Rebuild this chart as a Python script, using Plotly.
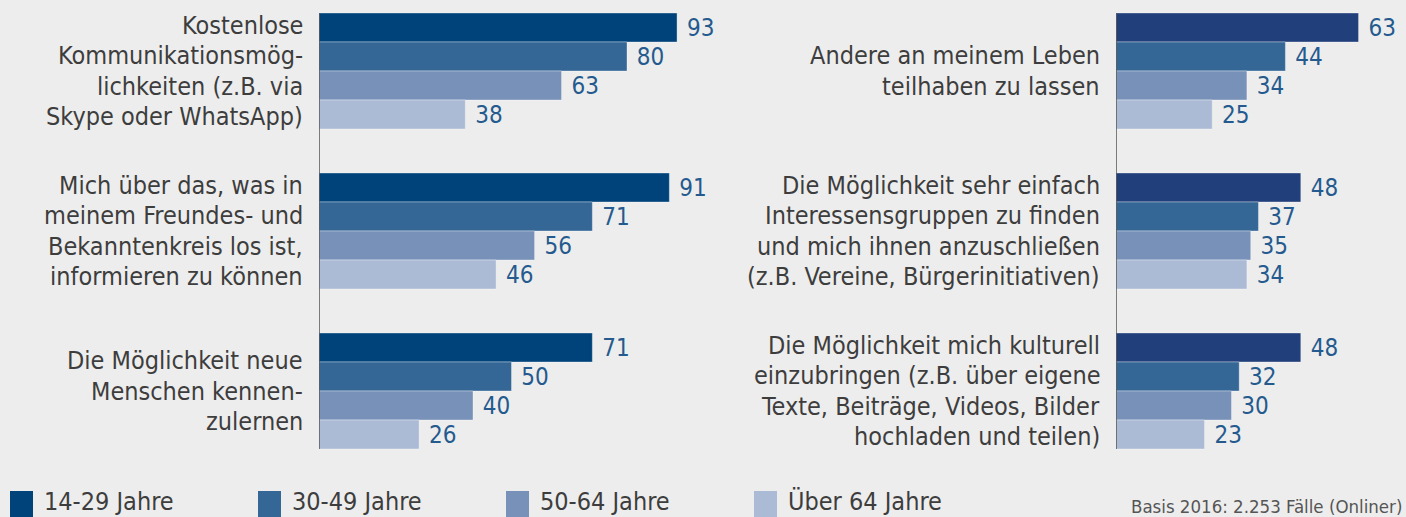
import plotly.graph_objects as go

W, H = 1406, 517

series_names = ["14-29 Jahre", "30-49 Jahre", "50-64 Jahre", "Über 64 Jahre"]

left_categories = [
    "Kostenlose<br>Kommunikationsmög-<br>lichkeiten (z.B. via<br>Skype oder WhatsApp)",
    "Mich über das, was in<br>meinem Freundes- und<br>Bekanntenkreis los ist,<br>informieren zu können",
    "Die Möglichkeit neue<br>Menschen kennen-<br>zulernen",
]
right_categories = [
    "Andere an meinem Leben<br>teilhaben zu lassen",
    "Die Möglichkeit sehr einfach<br>Interessensgruppen zu finden<br>und mich ihnen anzuschließen<br>(z.B. Vereine, Bürgerinitiativen)",
    "Die Möglichkeit mich kulturell<br>einzubringen (z.B. über eigene<br>Texte, Beiträge, Videos, Bilder<br>hochladen und teilen)",
]

left_14_29 = [93, 91, 71]
left_30_49 = [80, 71, 50]
left_50_64 = [63, 56, 40]
left_over_64 = [38, 46, 26]

right_14_29 = [63, 48, 48]
right_30_49 = [44, 37, 32]
right_50_64 = [34, 35, 30]
right_over_64 = [25, 34, 23]

footnote = "Basis 2016: 2.253 Fälle (Onliner)"

left_colors = ["#00427a", "#346696", "#7891b9", "#abbad5"]
right_colors = ["#213f7a", "#346696", "#7891b9", "#abbad5"]
legend_colors = ["#00427a", "#346696", "#7891b9", "#abbad5"]

BG = "#ededed"
LABEL_COLOR = "#3d3d3d"
VALUE_COLOR = "#245a8e"
FONT = "DejaVu Sans Condensed"
FS_LABEL = 25
FS_VALUE = 24
FS_LEGEND = 25
BARGAP = 0.275

fig = go.Figure()

left_series = [left_14_29, left_30_49, left_50_64, left_over_64]
right_series = [right_14_29, right_30_49, right_50_64, right_over_64]

for name, vals, col in zip(series_names, left_series, left_colors):
    fig.add_trace(go.Bar(
        x=vals, y=left_categories, orientation="h", name=name,
        marker=dict(color=col, line=dict(color="rgba(255,255,255,0.35)", width=1)),
        text=vals, texttemplate="\u00a0%{x}", textposition="outside",
        textfont=dict(family=FONT, size=FS_VALUE, color=VALUE_COLOR),
        cliponaxis=False, xaxis="x", yaxis="y", showlegend=False,
    ))
for name, vals, col in zip(series_names, right_series, right_colors):
    fig.add_trace(go.Bar(
        x=vals, y=right_categories, orientation="h", name=name,
        marker=dict(color=col, line=dict(color="rgba(255,255,255,0.35)", width=1)),
        text=vals, texttemplate="\u00a0%{x}", textposition="outside",
        textfont=dict(family=FONT, size=FS_VALUE, color=VALUE_COLOR),
        cliponaxis=False, xaxis="x2", yaxis="y2", showlegend=False,
    ))

px_per_unit = 3.85
left_axis_px = 319
right_axis_px = 1116
left_range = 100
right_range = 75
group_pitch = 160
first_center_px = 71

yrange = [(H - first_center_px) / group_pitch, -first_center_px / group_pitch]

fig.update_layout(
    width=W, height=H,
    margin=dict(l=0, r=0, t=0, b=0),
    paper_bgcolor=BG, plot_bgcolor=BG,
    barmode="group", bargap=BARGAP, bargroupgap=0,
    font=dict(family=FONT, size=FS_LABEL, color=LABEL_COLOR),
    uniformtext=dict(mode=False),
    xaxis=dict(domain=[left_axis_px / W, (left_axis_px + px_per_unit * left_range) / W],
               range=[0, left_range], visible=False, fixedrange=True),
    yaxis=dict(domain=[0, 1], range=yrange, type="category",
               categoryorder="array", categoryarray=left_categories,
               visible=False, anchor="x"),
    xaxis2=dict(domain=[right_axis_px / W, (right_axis_px + px_per_unit * right_range) / W],
                range=[0, right_range], visible=False),
    yaxis2=dict(domain=[0, 1], range=yrange, type="category",
                categoryorder="array", categoryarray=right_categories,
                visible=False, anchor="x2"),
)

half = (1 - BARGAP) / 2
LINE_PITCH = 30.5
annotations = []
shapes = []
for xref, yref, cats in [("x", "y", left_categories), ("x2", "y2", right_categories)]:
    shapes.append(dict(type="line", xref=xref, yref=yref, x0=0, x1=0,
                       y0=-half, y1=len(cats) - 1 + half,
                       line=dict(color="#555555", width=1.5)))
    for cat in cats:
        lines = cat.split("<br>")
        n = len(lines)
        for i, ln in enumerate(lines):
            annotations.append(dict(
                x=0, y=cat, xref=xref, yref=yref, text=ln, showarrow=False,
                xanchor="right", yanchor="middle", xshift=-14,
                yshift=-(i - (n - 1) / 2) * LINE_PITCH,
                font=dict(family=FONT, size=FS_LABEL, color=LABEL_COLOR),
            ))

# custom legend
for i, (name, col) in enumerate(zip(series_names, legend_colors)):
    x0 = 10 + 248 * i
    shapes.append(dict(type="rect", xref="paper", yref="paper",
                       x0=x0 / W, x1=(x0 + 23) / W, y0=1 - 517 / H, y1=1 - 491 / H,
                       fillcolor=col, line=dict(width=0)))
    annotations.append(dict(x=(x0 + 32) / W, y=1 - 501 / H, xref="paper", yref="paper",
                            text=name, showarrow=False, xanchor="left", yanchor="middle",
                            font=dict(family=FONT, size=FS_LEGEND, color=LABEL_COLOR)))

annotations.append(dict(x=1404 / W, y=1 - 506 / H, xref="paper", yref="paper",
                        text=footnote, showarrow=False, xanchor="right", yanchor="middle",
                        font=dict(family=FONT, size=18.5, color="#555555")))

fig.update_layout(shapes=shapes, annotations=annotations)

fig.write_html(
    "out.html",
    config={"displayModeBar": False},
    post_script="document.body.style.margin='0';document.body.style.overflow='hidden';",
)
